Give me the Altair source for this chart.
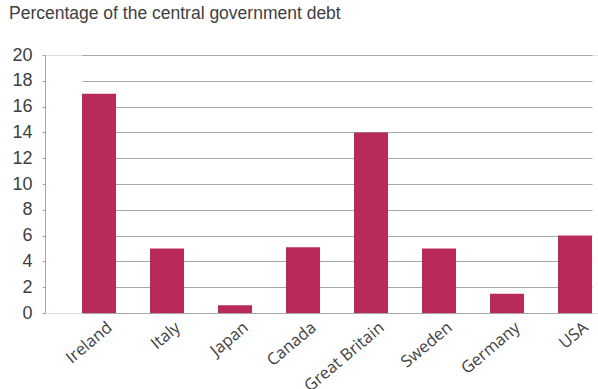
import altair as alt
import pandas as pd

countries = ["Ireland", "Italy", "Japan", "Canada", "Great Britain", "Sweden", "Germany", "USA"]
values = [17, 5, 0.6, 5.1, 14, 5, 1.5, 6]
y_ticks = [0, 2, 4, 6, 8, 10, 12, 14, 16, 18, 20]

df = pd.DataFrame({"country": countries, "value": values})

FONT = "Liberation Sans"
TXT = "#404040"

chart = alt.Chart(df).mark_bar(color="#B72A5A").encode(
    x=alt.X("country:N", sort=countries, title=None,
            scale=alt.Scale(paddingInner=0.5, paddingOuter=0, range=[37, 547]),
            axis=alt.Axis(labelAngle=-40, labelAlign="right", labelBaseline="middle",
                          labelFontSize=16.5, labelColor=TXT, labelFont="Open Sans",
                          domain=False, ticks=False, labelPadding=12, labelOffset=11)),
    y=alt.Y("value:Q", title=None,
            scale=alt.Scale(domain=[0, 20], nice=False),
            axis=alt.Axis(values=y_ticks, labelFontSize=18, labelColor=TXT, labelFont=FONT,
                          gridColor="#a6a6a6", gridWidth=1, domainColor="#a6a6a6",
                          tickColor="#a6a6a6", tickSize=3, labelPadding=10)),
).properties(
    width=553, height=258,
    title=alt.TitleParams("Percentage of the central government debt", anchor="start",
                          fontSize=17.5, font=FONT, fontWeight="normal", color=TXT,
                          dx=-3, offset=24),
    autosize=alt.AutoSizeParams(type="none"),
    padding={"left": 45, "top": 55, "right": 0, "bottom": 76},
).configure_view(stroke=None).configure(background="white")

chart.save("out.html", embed_options={"renderer": "svg", "actions": False})
